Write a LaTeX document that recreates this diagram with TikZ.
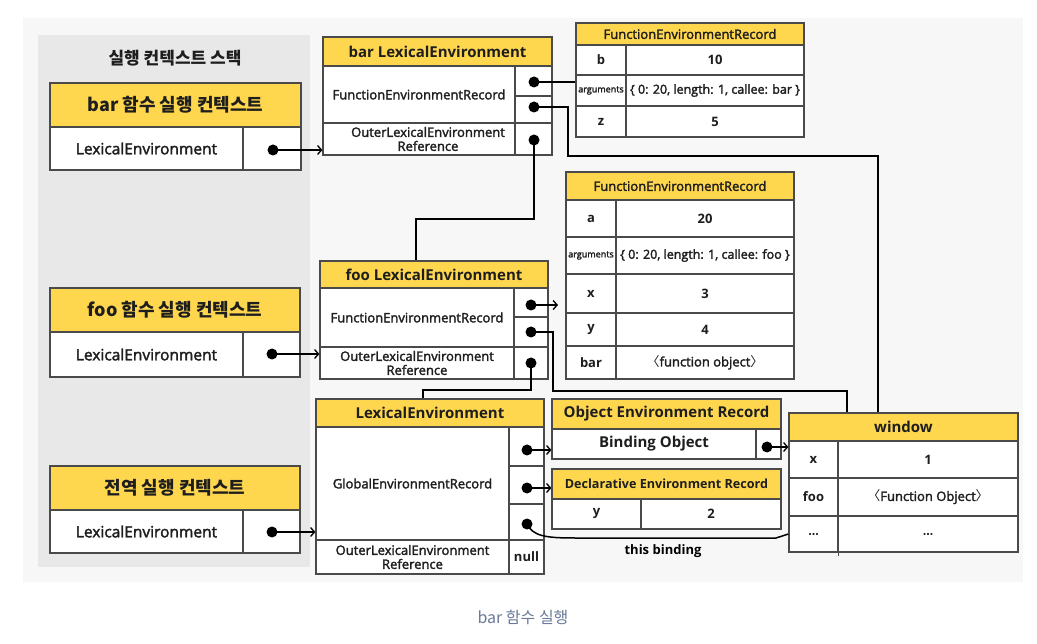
\documentclass[tikz,border=0pt]{standalone}
\usepackage{fontspec}
\setmainfont{Open Sans}
\newfontfamily\semi{Open Sans}[FakeBold=2.2]
\newfontfamily\kr{Noto Sans CJK KR}
\usetikzlibrary{arrows.meta}
\definecolor{yel}{HTML}{FFD74F}
\definecolor{bgl}{HTML}{F7F7F7}
\definecolor{pnl}{HTML}{E8E8E8}
\definecolor{bdr}{HTML}{4A4A4A}
\definecolor{capc}{HTML}{6B7A99}
\definecolor{txt}{HTML}{1E1E1E}
\tikzset{
 cellst/.style={draw=bdr, line width=1.2pt, fill=white, inner sep=0pt, align=center, text=txt},
 hdr/.style={fill=yel},
 dotn/.style={circle, fill=black, inner sep=0pt, minimum size=11pt},
 conn/.style={line width=1.5pt, black},
 arr/.style={conn, -{Straight Barb[length=4pt,width=9pt,line width=1.3pt]}},
 fT/.style={font={\kr\bfseries\fontsize{17}{19}\selectfont}, text=txt},
 fK/.style={font={\kr\bfseries\fontsize{18}{20}\selectfont}},
 fH/.style={font={\bfseries\fontsize{15}{17}\selectfont}},
 fB/.style={font={\semi\fontsize{15.5}{17}\selectfont}},
 fR/.style={font={\semi\fontsize{13}{14}\selectfont}},
 fS/.style={font={\semi\fontsize{12.5}{13.5}\selectfont}},
 fTH/.style={font={\semi\fontsize{13}{14}\selectfont}},
 fD/.style={font={\bfseries\fontsize{12.6}{14}\selectfont}},
 fV/.style={font={\bfseries\fontsize{13}{15}\selectfont}},
 fA/.style={font={\semi\fontsize{9}{10}\selectfont}},
}
\newcommand\cel[7]{%
 \pgfmathsetmacro\cw{#4-#2}\pgfmathsetmacro\ch{#5-#3}%
 \node[cellst,#6,minimum width=\cw pt,minimum height=\ch pt] (#1) at ({(#2+#4)/2},{(#3+#5)/2}) {#7};}
\begin{document}
\begin{tikzpicture}[x=1pt,y=-1pt]
\useasboundingbox (0,0) rectangle (1037,644);
\fill[white] (0,0) rectangle (1037,644);
\fill[bgl] (23,18) rectangle (1023,582);
\fill[pnl] (38,35) rectangle (310,567);
\node[fT] (stk) at (175,58) {실행 컨텍스트 스택};
% stack contexts
\cel{bch}{50}{83}{301}{127}{hdr,fK}{bar 함수 실행 컨텍스트}
\cel{bcl}{50}{127}{243}{170}{fB}{LexicalEnvironment}
\cel{bcr}{243}{127}{301}{170}{}{}
\node[dotn] (bcd) at (273,150) {};
\cel{fch}{50}{288}{300}{332}{hdr,fK}{foo 함수 실행 컨텍스트}
\cel{fcl}{50}{332}{243}{377}{fB}{LexicalEnvironment}
\cel{fcr}{243}{332}{300}{377}{}{}
\node[dotn] (fcd) at (272,354) {};
\cel{gch}{50}{466}{300}{510}{hdr,fK}{전역 실행 컨텍스트}
\cel{gcl}{50}{510}{243}{553}{fB}{LexicalEnvironment}
\cel{gcr}{243}{510}{300}{553}{}{}
\node[dotn] (gcd) at (272,532) {};
% bar LexicalEnvironment
\cel{bh}{323}{37}{552}{66}{hdr,fH}{bar LexicalEnvironment}
\cel{bf}{323}{66}{515}{123}{fR}{FunctionEnvironmentRecord}
\cel{bf1}{515}{66}{552}{96}{}{}
\cel{bf2}{515}{96}{552}{123}{}{}
\cel{bo}{323}{123}{515}{155}{fR}{\hspace*{18pt}OuterLexicalEnvironment\\\hspace*{18pt}Reference}
\cel{bor}{515}{123}{552}{155}{}{}
\node[dotn] (bd1) at (534,82) {};
\node[dotn] (bd2) at (534,107) {};
\node[dotn] (bd3) at (534,140) {};
% bar FER table
\cel{bth}{576}{23}{804}{45}{hdr,fTH}{FunctionEnvironmentRecord}
\cel{bt1a}{576}{45}{626}{75}{fV}{b}
\cel{bt1b}{626}{45}{804}{75}{fV}{10}
\cel{bt2a}{576}{75}{626}{106}{fA}{arguments}
\cel{bt2b}{626}{75}{804}{106}{fS}{\{ 0: 20, length: 1, callee: bar \}}
\cel{bt3a}{576}{106}{626}{137}{fV}{z}
\cel{bt3b}{626}{106}{804}{137}{fV}{5}
% foo LexicalEnvironment
\cel{fh}{320}{261}{548}{288}{hdr,fH}{foo LexicalEnvironment}
\cel{ff}{320}{288}{514}{347}{fR}{FunctionEnvironmentRecord}
\cel{ff1}{514}{288}{548}{317}{}{}
\cel{ff2}{514}{317}{548}{347}{}{}
\cel{fo}{320}{347}{514}{379}{fR}{OuterLexicalEnvironment\\Reference}
\cel{for}{514}{347}{548}{379}{}{}
\node[dotn] (fd1) at (531,305) {};
\node[dotn] (fd2) at (531,332) {};
\node[dotn] (fd3) at (531,363) {};
% foo FER table
\cel{fth}{566}{172}{794}{200}{hdr,fTH}{FunctionEnvironmentRecord}
\cel{ft1a}{566}{200}{616}{237}{fV}{a}
\cel{ft1b}{616}{200}{794}{237}{fV}{20}
\cel{ft2a}{566}{237}{616}{274}{fA}{arguments}
\cel{ft2b}{616}{237}{794}{274}{fS}{\{ 0: 20, length: 1, callee: foo \}}
\cel{ft3a}{566}{274}{616}{313}{fV}{x}
\cel{ft3b}{616}{274}{794}{313}{fV}{3}
\cel{ft4a}{566}{313}{616}{346}{fV}{y}
\cel{ft4b}{616}{313}{794}{346}{fV}{4}
\cel{ft5a}{566}{346}{616}{379}{fV}{bar}
\cel{ft5b}{616}{346}{794}{379}{fR}{{\kr 〈}function object{\kr 〉}}
% global LexicalEnvironment
\cel{gh}{316}{399}{544}{427}{hdr,fH}{LexicalEnvironment}
\cel{gg}{316}{427}{509}{540}{fR}{GlobalEnvironmentRecord}
\cel{gg1}{509}{427}{544}{466}{}{}
\cel{gg2}{509}{466}{544}{504}{}{}
\cel{gg3}{509}{504}{544}{540}{}{}
\cel{go}{316}{540}{509}{574}{fR}{OuterLexicalEnvironment\\Reference}
\cel{gor}{509}{540}{544}{574}{fV}{null}
\node[dotn] (gd1) at (527,450) {};
\node[dotn] (gd2) at (527,488) {};
\node[dotn] (gd3) at (527,524) {};
% object environment record
\cel{oh}{552}{399}{781}{429}{hdr,fH}{Object Environment Record}
\cel{ob}{552}{429}{756}{459}{fH}{Binding Object}
\cel{obr}{756}{429}{781}{459}{}{}
\node[dotn] (od) at (767,447) {};
% declarative environment record
\cel{dh}{552}{469}{781}{499}{hdr,fD}{Declarative Environment Record}
\cel{d1}{552}{499}{641}{529}{fV}{y}
\cel{d2}{641}{499}{781}{529}{fV}{2}
% window
\cel{wh}{789}{413}{1018}{441}{hdr,fH}{window}
\cel{w1a}{789}{441}{838}{478}{fV}{x}
\cel{w1b}{838}{441}{1018}{478}{fV}{1}
\cel{w2a}{789}{478}{838}{516}{fV}{foo}
\cel{w2b}{838}{478}{1018}{516}{fR}{{\kr 〈}Function Object{\kr 〉}}
\cel{w3a}{789}{516}{838}{552}{fR}{...}
\cel{w3b}{838}{516}{1018}{552}{fR}{...}
\draw[bdr, line width=1.2pt] (w3a.south east) -- ++(0,3);
% connectors
\draw[arr] (bcd.center) -- (bcd -| bo.west);
\draw[arr] (fcd.center) -- (fcd -| fo.west);
\draw[arr] (gcd.center) -- (gcd -| gg.west);
\draw[conn] (bd1.center) -- (bd1 -| bt2a.west);
\coordinate (k1) at (568,156);
\draw[conn] (bd2.center) -- (bd2 -| k1) -- (k1) -- (878,156) -- (878,156 |- wh.north);
\coordinate (k2) at (416,219);
\draw[conn] (bd3.center) -- (bd3 |- k2) -- (k2) -- (k2 |- fh.north);
\coordinate (fe) at (558,305);
\draw[arr] (fd1.center) -- (fe);
\coordinate (k3) at (553,391);
\draw[conn] (fd2.center) -- (fd2 -| k3) -- (k3) -- (847,391) -- (847,391 |- wh.north);
\coordinate (k4) at (423,390);
\draw[conn] (fd3.center) -- (fd3 |- k4) -- (k4) -- (k4 |- gh.north);
\draw[arr] (gd1.center) -- (gd1 -| ob.west);
\draw[arr] (gd2.center) -- (gd2 -| dh.west);
\draw[arr] (od.center) -- (od -| w1a.west);
\draw[conn] (gd3.center) .. controls (533,536) and (545,538) .. (575,538) -- (776,538) -- (w3a.west);
\node[fV] (tb) at (663,551) {this binding};
\node[font={\kr\fontsize{16}{18}\selectfont}, text=capc] (cap) at (523,617) {bar 함수 실행};
\end{tikzpicture}
\end{document}
